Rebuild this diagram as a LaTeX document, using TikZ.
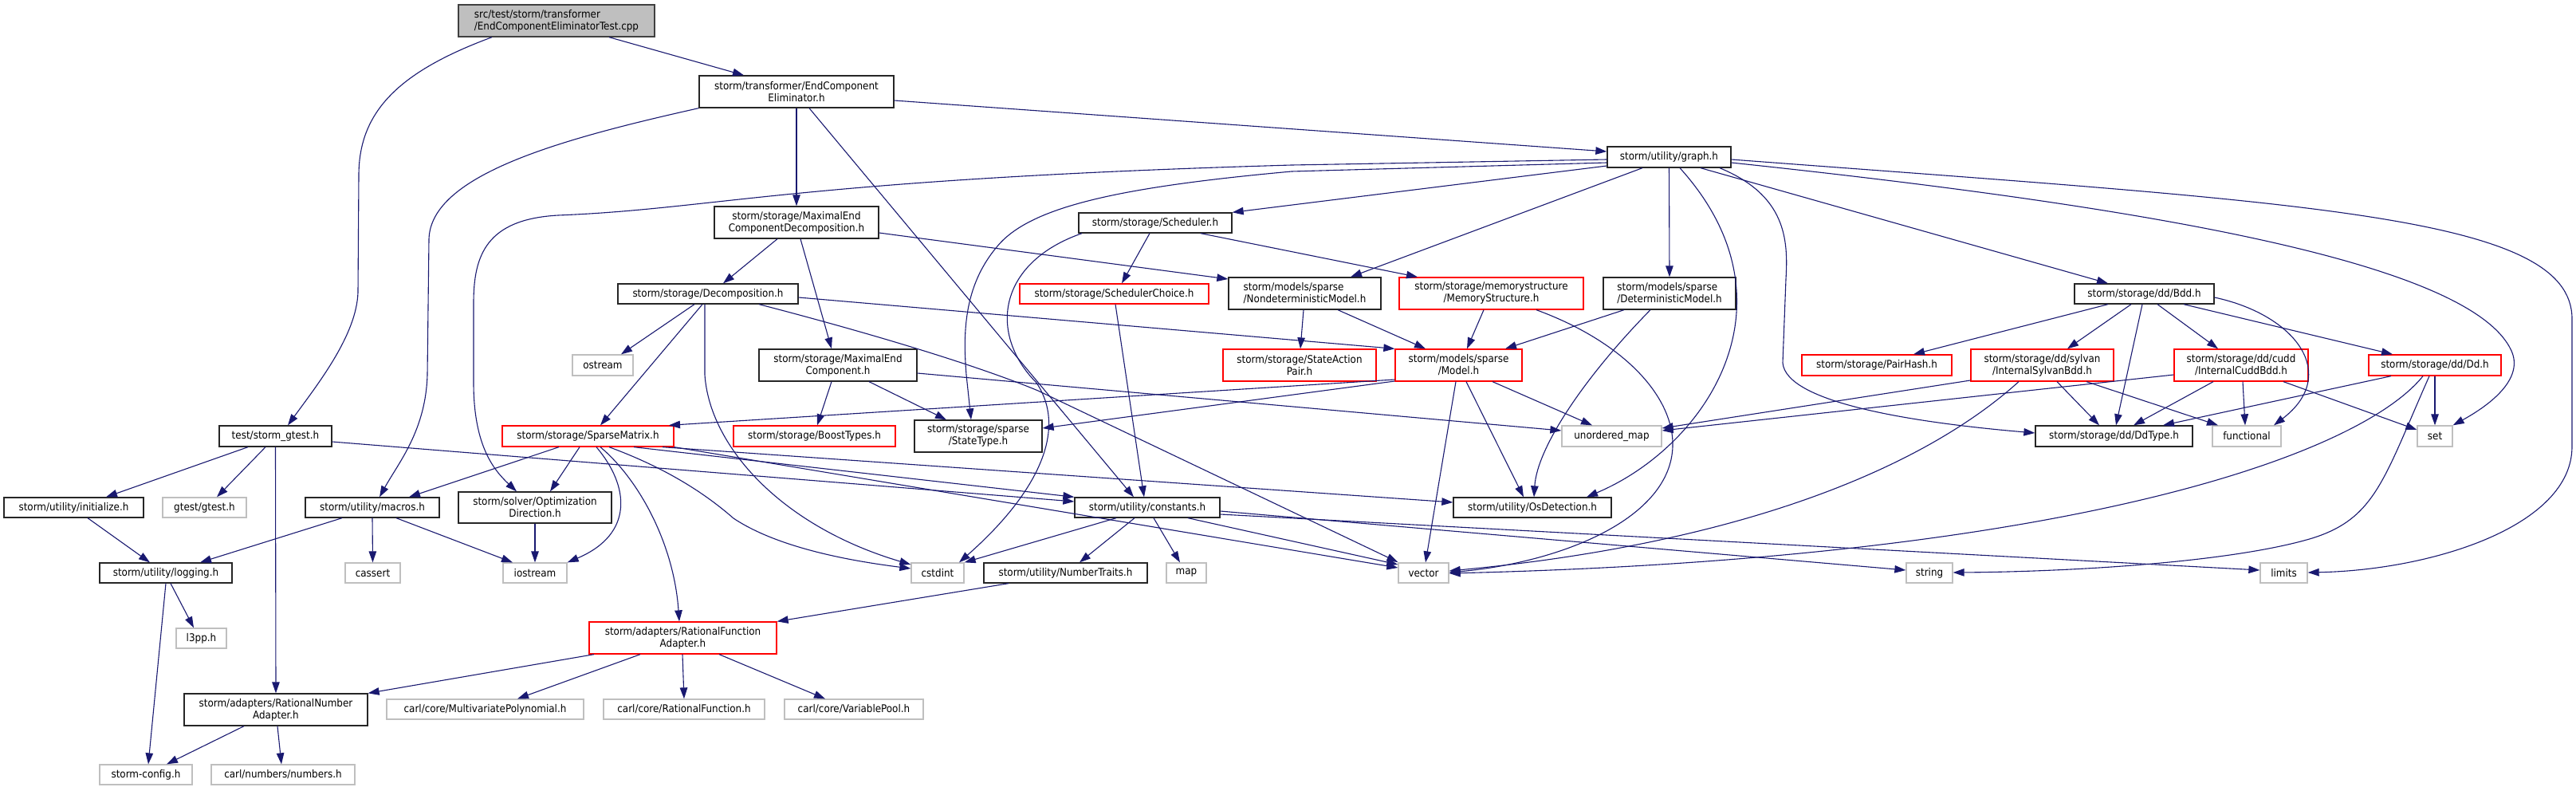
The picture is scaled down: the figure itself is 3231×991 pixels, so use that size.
\documentclass[tikz,border=0pt]{standalone}
\usepackage{fontspec}
\setmainfont{DejaVu Sans Condensed}
\usetikzlibrary{arrows.meta}
\definecolor{edgec}{HTML}{191970}
\definecolor{redc}{HTML}{FF0000}
\definecolor{grayc}{HTML}{BFBFBF}
\definecolor{rootdraw}{HTML}{404040}
\tikzset{
  box/.style={draw, rectangle, inner sep=0pt, align=center, font=\fontsize{13.3}{15}\selectfont, line width=1.3pt},
  blk/.style={box, draw=black!85},
  rd/.style={box, draw=redc},
  gr/.style={box, draw=grayc},
  rootbox/.style={box, draw=rootdraw, fill=grayc, align=left},
  e/.style={draw=edgec, line width=1.1pt, -{Triangle[length=14pt,width=9.5pt]}}
}
\begin{document}
\begin{tikzpicture}[x=1pt,y=-1pt]
\useasboundingbox (0,0) rectangle (3231,991);
% nodes
\node[rootbox, minimum width=246pt, minimum height=40pt] (root) at (698,26) {src/test/storm/transformer\\/EndComponentEliminatorTest.cpp};
\node[blk, minimum width=244pt, minimum height=40pt] (ece) at (999,115) {storm/transformer/EndComponent\\Eliminator.h};
\node[blk, minimum width=155pt, minimum height=26pt] (graph) at (2093.5,197) {storm/utility/graph.h};
\node[blk, minimum width=206pt, minimum height=40pt] (maxecd) at (999,279) {storm/storage/MaximalEnd\\ComponentDecomposition.h};
\node[blk, minimum width=192pt, minimum height=25pt] (sched) at (1449,279.5) {storm/storage/Scheduler.h};
\node[blk, minimum width=226pt, minimum height=25pt] (decomp) at (888,368.5) {storm/storage/Decomposition.h};
\node[rd, minimum width=237pt, minimum height=25pt] (schedch) at (1397.5,368.5) {storm/storage/SchedulerChoice.h};
\node[blk, align=left, minimum width=191pt, minimum height=40pt] (nondet) at (1636.5,368) {storm/models/sparse\\/NondeterministicModel.h};
\node[rd, minimum width=231pt, minimum height=40pt] (memstr) at (1870.5,368) {storm/storage/memorystructure\\/MemoryStructure.h};
\node[blk, align=left, minimum width=166pt, minimum height=40pt] (detm) at (2094,368) {storm/models/sparse\\/DeterministicModel.h};
\node[blk, minimum width=175pt, minimum height=25pt] (bdd) at (2689.5,368.5) {storm/storage/dd/Bdd.h};
\node[gr, minimum width=76pt, minimum height=26pt] (ostream) at (756,458) {ostream};
\node[blk, minimum width=198pt, minimum height=40pt] (mec) at (1051,458) {storm/storage/MaximalEnd\\Component.h};
\node[rd, minimum width=192pt, minimum height=40pt] (sap) at (1630,458) {storm/storage/StateAction\\Pair.h};
\node[rd, minimum width=159pt, minimum height=40pt] (model) at (1829.5,458) {storm/models/sparse\\/Model.h};
\node[rd, minimum width=188pt, minimum height=26pt] (pairhash) at (2354,458) {storm/storage/PairHash.h};
\node[rd, minimum width=179pt, minimum height=40pt] (isb) at (2561.5,458) {storm/storage/dd/sylvan\\/InternalSylvanBdd.h};
\node[rd, minimum width=168pt, minimum height=40pt] (icb) at (2811,458) {storm/storage/dd/cudd\\/InternalCuddBdd.h};
\node[rd, minimum width=166pt, minimum height=26pt] (dd) at (3054,458) {storm/storage/dd/Dd.h};
\node[blk, minimum width=141pt, minimum height=26pt] (gtest) at (345.5,547) {test/storm\_gtest.h};
\node[rd, minimum width=215pt, minimum height=26pt] (sparse) at (737.5,547) {storm/storage/SparseMatrix.h};
\node[rd, minimum width=203pt, minimum height=26pt] (boost) at (1021.5,547) {storm/storage/BoostTypes.h};
\node[blk, minimum width=160pt, minimum height=40pt] (statetype) at (1227,547) {storm/storage/sparse\\/StateType.h};
\node[gr, minimum width=125pt, minimum height=26pt] (umap) at (2021.5,547) {unordered\_map};
\node[blk, minimum width=197pt, minimum height=26pt] (ddtype) at (2651.5,547) {storm/storage/dd/DdType.h};
\node[gr, minimum width=86pt, minimum height=26pt] (functional) at (2818,547) {functional};
\node[gr, minimum width=44pt, minimum height=26pt] (set) at (3054,547) {set};
\node[blk, minimum width=175pt, minimum height=25pt] (init) at (92.5,636.5) {storm/utility/initialize.h};
\node[gr, minimum width=105pt, minimum height=25pt] (gtestg) at (256.5,636.5) {gtest/gtest.h};
\node[blk, minimum width=168pt, minimum height=25pt] (macros) at (467,636.5) {storm/utility/macros.h};
\node[blk, minimum width=192pt, minimum height=39pt] (optdir) at (671,636.5) {storm/solver/Optimization\\Direction.h};
\node[blk, minimum width=182pt, minimum height=25pt] (constants) at (1439,636.5) {storm/utility/constants.h};
\node[blk, minimum width=198pt, minimum height=25pt] (osdet) at (1922,636.5) {storm/utility/OsDetection.h};
\node[blk, minimum width=166pt, minimum height=25pt] (logging) at (208,718.5) {storm/utility/logging.h};
\node[gr, minimum width=69pt, minimum height=25pt] (cassert) at (467.5,718.5) {cassert};
\node[gr, minimum width=80pt, minimum height=25pt] (iostream) at (671,718.5) {iostream};
\node[gr, minimum width=66pt, minimum height=25pt] (cstdint) at (1176,718.5) {cstdint};
\node[blk, minimum width=205pt, minimum height=25pt] (numtr) at (1336.5,718.5) {storm/utility/NumberTraits.h};
\node[gr, minimum width=50pt, minimum height=25pt] (map) at (1488,718.5) {map};
\node[gr, minimum width=63pt, minimum height=25pt] (vector) at (1785.5,718.5) {vector};
\node[gr, minimum width=58pt, minimum height=25pt] (string) at (2420,718.5) {string};
\node[gr, minimum width=59pt, minimum height=25pt] (limits) at (2864.5,718.5) {limits};
\node[gr, minimum width=63pt, minimum height=25pt] (l3pp) at (252.5,800.5) {l3pp.h};
\node[rd, minimum width=235pt, minimum height=40pt] (rfa) at (856.5,800) {storm/adapters/RationalFunction\\Adapter.h};
\node[blk, minimum width=230pt, minimum height=40pt] (rna) at (346,890) {storm/adapters/RationalNumber\\Adapter.h};
\node[gr, minimum width=247pt, minimum height=25pt] (mpoly) at (608.5,889.5) {carl/core/MultivariatePolynomial.h};
\node[gr, minimum width=202pt, minimum height=25pt] (ratfunc) at (858,889.5) {carl/core/RationalFunction.h};
\node[gr, minimum width=174pt, minimum height=25pt] (varpool) at (1071,889.5) {carl/core/VariablePool.h};
\node[gr, minimum width=116pt, minimum height=25pt] (config) at (183,971.5) {storm-config.h};
\node[gr, minimum width=180pt, minimum height=25pt] (numbers) at (355,971.5) {carl/numbers/numbers.h};
% edges
\draw[e] (root.south -| 764,0) -- (ece.north -| 933,0);
\draw[e] (root.south -| 617,0) .. controls (500,90) and (450,140) .. (450,220) -- (449,367) .. controls (447,420) and (400,480) .. (gtest.north -| 361,0);
\draw[e] (ece.east |- 0,126) -- (graph.west |- 0,190);
\draw[e] (ece.south) -- (maxecd.north);
\draw[e] (ece.south -| 1015,0) -- (constants.north -| 1422,0);
\draw[e] (ece.south west) .. controls (700,175) and (540,220) .. (538,300) -- (536,470) .. controls (534,540) and (500,580) .. (macros.north -| 476,0);
\draw[e] (graph.west |- 0,208) -- (sched.north east);
\draw[e] (graph.south -| 2060,0) -- (nondet.north -| 1694,0);
\draw[e] (graph.south) -- (detm.north);
\draw[e] (graph.south -| 2107,0) .. controls (2260,380) and (2140,560) .. (osdet.north -| 1990,0);
\draw[e] (graph.south -| 2133,0) -- (bdd.north -| 2644,0);
\draw[e] (graph.south -| 2157,0) .. controls (2240,245) and (2243,300) .. (2240,350) -- (2236,455) .. controls (2240,505) and (2400,530) .. (ddtype.west |- 0,543);
\draw[e] (graph.east |- 0,204) .. controls (2700,260) and (3100,330) .. (3150,440) .. controls (3168,480) and (3110,515) .. (set.north east);
\draw[e] (graph.east |- 0,200) .. controls (2900,255) and (3226,270) .. (3226,400) -- (3226,560) .. controls (3226,660) and (3050,715) .. (limits.east |- 0,718);
\draw[e] (graph.west |- 0,200) -- (1620,207) .. controls (1000,225) and (900,262) .. (700,270) .. controls (610,275) and (594,320) .. (594,380) -- (594,480) .. controls (594,560) and (620,590) .. (optdir.north -| 648,0);
\draw[e] (graph.west |- 0,204) -- (1620,215) .. controls (1400,235) and (1290,260) .. (1250,310) .. controls (1208,360) and (1208,420) .. (1212,470) -- (statetype.north -| 1218,0);
\draw[e] (maxecd.south -| 975,0) -- (decomp.north -| 907,0);
\draw[e] (maxecd.south -| 1004,0) -- (mec.north -| 1043,0);
\draw[e] (maxecd.east |- 0,292) -- (nondet.west |- 0,350);
\draw[e] (sched.south -| 1442,0) -- (schedch.north -| 1407,0);
\draw[e] (sched.south -| 1506,0) -- (memstr.north -| 1778,0);
\draw[e] (sched.south -| 1357,0) .. controls (1250,330) and (1240,420) .. (1300,480) .. controls (1340,540) and (1300,620) .. (cstdint.north -| 1203,0);
\draw[e] (decomp.south -| 871,0) -- (ostream.north -| 779,0);
\draw[e] (decomp.south -| 881,0) -- (sparse.north -| 753,0);
\draw[e] (decomp.south -| 884,0) -- (884,470) .. controls (890,560) and (980,660) .. (cstdint.west |- 0,708);
\draw[e] (decomp.south -| 952,0) .. controls (1100,420) and (1230,460) .. (1302,490) -- (vector.west |- 0,705);
\draw[e] (decomp.east |- 0,373) -- (model.north west);
\draw[e] (mec.south -| 1043,0) -- (boost.north -| 1025,0);
\draw[e] (mec.south -| 1090,0) -- (statetype.north -| 1187,0);
\draw[e] (mec.east |- 0,468) -- (umap.west |- 0,540);
\draw[e] (schedch.south -| 1399,0) -- (constants.north -| 1435,0);
\draw[e] (nondet.south -| 1635,0) -- (sap.north -| 1631,0);
\draw[e] (nondet.south -| 1678,0) -- (model.north -| 1788,0);
\draw[e] (memstr.south -| 1861,0) -- (model.north -| 1840,0);
\draw[e] (memstr.south -| 1927,0) .. controls (2040,430) and (2100,500) .. (2098,560) .. controls (2095,650) and (1960,705) .. (vector.east |- 0,718);
\draw[e] (detm.south -| 2037,0) -- (model.north -| 1888,0);
\draw[e] (detm.south -| 2070,0) .. controls (1990,470) and (1928,560) .. (osdet.north -| 1924,0);
\draw[e] (model.west |- 0,476) -- (sparse.north -| 839,0);
\draw[e] (model.west |- 0,478) -- (statetype.east |- 0,537);
\draw[e] (model.south -| 1872,0) -- (umap.north -| 1997,0);
\draw[e] (model.south -| 1826,0) -- (vector.north -| 1788,0);
\draw[e] (model.south -| 1839,0) -- (osdet.north -| 1911,0);
\draw[e] (bdd.south -| 2644,0) -- (pairhash.north -| 2400,0);
\draw[e] (bdd.south -| 2673,0) -- (isb.north -| 2593,0);
\draw[e] (bdd.south -| 2706,0) -- (icb.north -| 2782,0);
\draw[e] (bdd.south -| 2739,0) -- (dd.north -| 3001,0);
\draw[e] (bdd.south -| 2687,0) -- (ddtype.north -| 2654,0);
\draw[e] (bdd.east |- 0,373) .. controls (2880,395) and (2935,470) .. (functional.north -| 2852,0);
\draw[e] (isb.west |- 0,477) -- (umap.east |- 0,537);
\draw[e] (isb.south -| 2532,0) .. controls (2420,580) and (2200,680) .. (vector.east |- 0,716);
\draw[e] (isb.south -| 2580,0) -- (ddtype.north -| 2633,0);
\draw[e] (isb.south -| 2617,0) -- (functional.north -| 2782,0);
\draw[e] (icb.west |- 0,470) -- (umap.east |- 0,540);
\draw[e] (icb.south -| 2776,0) -- (ddtype.north -| 2676,0);
\draw[e] (icb.south -| 2813,0) -- (functional.north -| 2816,0);
\draw[e] (icb.south -| 2864,0) -- (set.west |- 0,539);
\draw[e] (dd.south -| 2999,0) -- (ddtype.north -| 2713,0);
\draw[e] (dd.south) -- (set.north);
\draw[e] (dd.south -| 3039,0) .. controls (2960,570) and (2600,700) .. (vector.east |- 0,719);
\draw[e] (dd.south -| 3047,0) .. controls (2990,600) and (2980,650) .. (2900,675) .. controls (2800,705) and (2600,717) .. (string.east |- 0,718);
\draw[e] (gtest.south -| 311,0) -- (init.north -| 133,0);
\draw[e] (gtest.south -| 333,0) -- (gtestg.north -| 272,0);
\draw[e] (gtest.south) -- (rna.north);
\draw[e] (gtest.east |- 0,554) -- (constants.west |- 0,629);
\draw[e] (init.south -| 110,0) -- (logging.north -| 188,0);
\draw[e] (logging.south -| 214,0) -- (l3pp.north -| 243,0);
\draw[e] (logging.south -| 208,0) -- (config.north -| 186,0);
\draw[e] (macros.south -| 429,0) -- (logging.north -| 251,0);
\draw[e] (macros.south) -- (cassert.north);
\draw[e] (macros.south -| 497,0) -- (iostream.north -| 643,0);
\draw[e] (optdir.south) -- (iostream.north);
\draw[e] (sparse.south -| 701,0) -- (macros.north -| 513,0);
\draw[e] (sparse.south -| 727,0) -- (optdir.north -| 690,0);
\draw[e] (sparse.south -| 748,0) .. controls (790,610) and (795,670) .. (iostream.north east);
\draw[e] (sparse.south -| 753,0) .. controls (800,600) and (845,680) .. (rfa.north -| 852,0);
\draw[e] (sparse.south -| 764,0) .. controls (830,585) and (880,615) .. (920,650) .. controls (980,690) and (1080,705) .. (cstdint.west |- 0,713);
\draw[e] (sparse.south -| 795,0) -- (constants.north west);
\draw[e] (sparse.south -| 831,0) -- (osdet.west |- 0,630);
\draw[e] (sparse.south east) -- (vector.west |- 0,712);
\draw[e] (rfa.south -| 745,0) -- (rna.north east);
\draw[e] (rfa.south -| 803,0) -- (mpoly.north -| 649,0);
\draw[e] (rfa.south -| 856,0) -- (ratfunc.north -| 858,0);
\draw[e] (rfa.south -| 902,0) -- (varpool.north -| 1035,0);
\draw[e] (numtr.south -| 1265,0) -- (rfa.north east);
\draw[e] (rna.south -| 306,0) -- (config.north -| 209,0);
\draw[e] (rna.south -| 348,0) -- (numbers.north -| 353,0);
\draw[e] (constants.south -| 1400,0) -- (cstdint.north east);
\draw[e] (constants.south -| 1423,0) -- (numtr.north -| 1354,0);
\draw[e] (constants.south -| 1447,0) -- (map.north -| 1480,0);
\draw[e] (constants.south -| 1490,0) -- (vector.west |- 0,708);
\draw[e] (constants.east |- 0,641) -- (string.west |- 0,715);
\draw[e] (constants.east |- 0,645) -- (limits.west |- 0,715);
\end{tikzpicture}
\end{document}
